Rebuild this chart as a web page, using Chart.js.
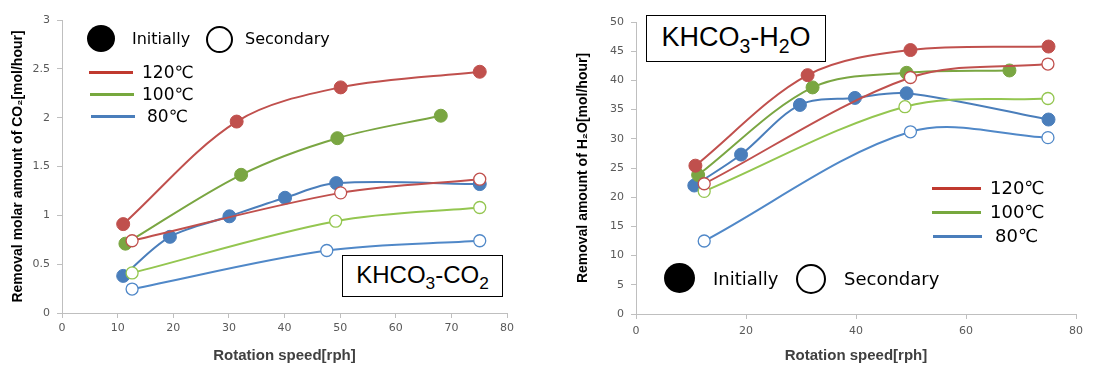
<!DOCTYPE html>
<html>
<head>
<meta charset="utf-8">
<script src="https://cdn.jsdelivr.net/npm/chart.js@4.4.1/dist/chart.umd.min.js"></script>
<style>
  html, body { margin: 0; padding: 0; background: #fff; }
  #wrap { position: relative; width: 1100px; height: 371px; overflow: hidden; }
  .cv { position: absolute; top: 0; height: 371px; }
  .ov { position: absolute; pointer-events: none; white-space: nowrap; color: #000; }
  .txt { font-family: "DejaVu Sans", sans-serif; line-height: 1; }
  .dot { position: absolute; border-radius: 50%; box-sizing: border-box; }
  .ln { position: absolute; height: 3px; }
  .box { position: absolute; border: 1px solid #000; background: #fff; box-sizing: border-box;
         text-align: center; font-family: "Liberation Sans", Arial, sans-serif; white-space: nowrap; }
  .box .sb { font-size: 72%; position: relative; top: 0.34em; }
</style>
</head>
<body>
<div id="wrap">
  <div class="cv" style="left:0;width:560px"><canvas id="co2"></canvas></div>
  <div class="cv" style="left:560px;width:540px"><canvas id="h2o"></canvas></div>

  <!-- left chart legends -->
  <div class="dot" style="left:87px;top:25px;width:28px;height:27px;background:#000"></div>
  <div class="ov txt" style="left:132px;top:31px;font-size:16px">Initially</div>
  <div class="dot" style="left:206px;top:26px;width:27px;height:27px;border:2px solid #000;background:#fff"></div>
  <div class="ov txt" style="left:245px;top:31px;font-size:16px">Secondary</div>
  <div class="ln" style="left:89px;top:71px;width:44px;background:#C0392F"></div>
  <div class="ln" style="left:90px;top:93px;width:44px;background:#77A83E"></div>
  <div class="ln" style="left:91px;top:115px;width:44px;background:#4A7EBB"></div>
  <div class="ov txt" style="left:142px;top:64px;font-size:17px">120℃</div>
  <div class="ov txt" style="left:142px;top:86px;font-size:17px">100℃</div>
  <div class="ov txt" style="left:147px;top:108px;font-size:17px">80℃</div>
  <div class="box" style="left:342px;top:255px;width:161px;height:42px;font-size:24px;line-height:38px">KHCO<span class="sb">3</span>-CO<span class="sb">2</span></div>

  <!-- right chart legends -->
  <div class="box" style="left:646px;top:15px;width:180px;height:47px;font-size:27px;line-height:42px">KHCO<span class="sb">3</span>-H<span class="sb">2</span>O</div>
  <div class="ln" style="left:932px;top:187px;width:49px;background:#C0392F"></div>
  <div class="ln" style="left:932px;top:211px;width:49px;background:#77A83E"></div>
  <div class="ln" style="left:933px;top:235px;width:49px;background:#4A7EBB"></div>
  <div class="ov txt" style="left:990px;top:179px;font-size:18px">120℃</div>
  <div class="ov txt" style="left:990px;top:203px;font-size:18px">100℃</div>
  <div class="ov txt" style="left:995px;top:227px;font-size:18px">80℃</div>
  <div class="dot" style="left:664px;top:263px;width:31px;height:30px;background:#000"></div>
  <div class="ov txt" style="left:713px;top:270px;font-size:18px">Initially</div>
  <div class="dot" style="left:796px;top:264px;width:30px;height:30px;border:2px solid #000;background:#fff"></div>
  <div class="ov txt" style="left:844px;top:270px;font-size:18px">Secondary</div>
</div>

<script>
// CO2 removal (left chart), x = rotation speed [rph], y = mol/hour
const co2Init120X = [11.0, 31.4, 50.1, 75.1];
const co2Init120Y = [0.91, 1.96, 2.31, 2.47];
const co2Init100X = [11.4, 32.2, 49.5, 68.1];
const co2Init100Y = [0.71, 1.415, 1.79, 2.02];
const co2Init80X = [11.0, 19.4, 30.1, 40.1, 49.3, 75.1];
const co2Init80Y = [0.38, 0.78, 0.99, 1.18, 1.33, 1.32];
const co2Sec120X = [12.6, 50.1, 75.1];
const co2Sec120Y = [0.74, 1.23, 1.37];
const co2Sec100X = [12.6, 49.2, 75.1];
const co2Sec100Y = [0.41, 0.94, 1.08];
const co2Sec80X = [12.6, 47.6, 75.1];
const co2Sec80Y = [0.245, 0.64, 0.74];

// H2O removal (right chart)
const h2oInit120X = [10.8, 31.2, 49.9, 75.0];
const h2oInit120Y = [25.4, 40.9, 45.2, 45.8];
const h2oInit100X = [11.3, 32.1, 49.2, 67.9];
const h2oInit100Y = [23.8, 38.8, 41.3, 41.7];
const h2oInit80X = [10.6, 19.1, 29.8, 39.8, 49.2, 75.0];
const h2oInit80Y = [22.0, 27.3, 35.8, 37.0, 37.8, 33.3];
const h2oSec120X = [12.4, 49.9, 74.9];
const h2oSec120Y = [22.3, 40.5, 42.8];
const h2oSec100X = [12.4, 48.9, 74.9];
const h2oSec100Y = [21.0, 35.5, 36.9];
const h2oSec80X = [12.4, 49.9, 74.9];
const h2oSec80Y = [12.5, 31.2, 30.2];

const co2YTicks = [0, 0.5, 1, 1.5, 2, 2.5, 3];
const h2oYTicks = [0, 5, 10, 15, 20, 25, 30, 35, 40, 45, 50];

const RED = '#C0504D', GREEN = '#7AA642', BLUE = '#4A7EBB';
const GREEN_LIGHT = '#94C650', BLUE_LIGHT = '#5088C8';
const TENSION = 0.33;

function pts(xs, ys) {
  return xs.map((x, i) => ({ x: x, y: ys[i] }));
}

function filled(xs, ys, color) {
  return {
    data: pts(xs, ys), borderColor: color, backgroundColor: color,
    pointBackgroundColor: color, pointBorderColor: color,
    pointRadius: 6.5, pointBorderWidth: 1, borderWidth: 2, tension: TENSION
  };
}

function hollow(xs, ys, color) {
  return {
    data: pts(xs, ys), borderColor: color, backgroundColor: '#fff',
    pointBackgroundColor: '#fff', pointBorderColor: color,
    pointRadius: 6, pointBorderWidth: 1.3, borderWidth: 2, tension: TENSION
  };
}

const tickFont = { family: 'DejaVu Sans', size: 11 };
const titleFont = { family: 'Liberation Sans', size: 14, weight: 'bold' };

function makeChart(id, datasets, opts) {
  return new Chart(document.getElementById(id), {
    type: 'line',
    data: { datasets: datasets },
    options: {
      responsive: true,
      maintainAspectRatio: false,
      animation: false,
      layout: { padding: { top: opts.padTop, right: opts.padRight, left: 0, bottom: 0 } },
      plugins: { legend: { display: false }, tooltip: { enabled: false } },
      scales: {
        x: {
          type: 'linear', min: 0, max: 80,
          ticks: { stepSize: opts.xStep, font: tickFont, color: '#595959', padding: opts.xTickPad, maxRotation: 0 },
          grid: { drawOnChartArea: false, color: '#BFBFBF', tickLength: 5 },
          border: { color: '#BFBFBF' },
          title: { display: true, text: 'Rotation speed[rph]', color: '#404040',
                   font: { family: 'Liberation Sans', size: 15, weight: 'bold' }, padding: { top: 0, bottom: 6 } },
          afterFit: s => { s.height = opts.xHeight; }
        },
        y: {
          type: 'linear', min: 0, max: opts.yMax,
          afterBuildTicks: s => { s.ticks = opts.yTicks.map(v => ({ value: v })); },
          ticks: { font: tickFont, color: '#595959', padding: 7, callback: v => String(v) },
          grid: { drawOnChartArea: false, color: '#BFBFBF', tickLength: 5 },
          border: { color: '#BFBFBF' },
          title: { display: true, text: opts.yTitle, color: '#000', font: titleFont,
                   padding: { top: opts.yTitlePad, bottom: 0 } },
          afterFit: s => { s.width = opts.yWidth; }
        }
      }
    }
  });
}

makeChart('co2', [
  hollow(co2Sec120X, co2Sec120Y, RED),
  hollow(co2Sec100X, co2Sec100Y, GREEN_LIGHT),
  hollow(co2Sec80X, co2Sec80Y, BLUE_LIGHT),
  filled(co2Init120X, co2Init120Y, RED),
  filled(co2Init100X, co2Init100Y, GREEN),
  filled(co2Init80X, co2Init80Y, BLUE)
], {
  padTop: 20, padRight: 53, xStep: 10, xTickPad: 4, xHeight: 58,
  yMax: 3, yTicks: co2YTicks, yWidth: 62, yTitlePad: 10,
  yTitle: 'Removal molar amount of CO₂[mol/hour]'
});

makeChart('h2o', [
  hollow(h2oSec120X, h2oSec120Y, RED),
  hollow(h2oSec100X, h2oSec100Y, GREEN_LIGHT),
  hollow(h2oSec80X, h2oSec80Y, BLUE_LIGHT),
  filled(h2oInit120X, h2oInit120Y, RED),
  filled(h2oInit100X, h2oInit100Y, GREEN),
  filled(h2oInit80X, h2oInit80Y, BLUE)
], {
  padTop: 22, padRight: 24, xStep: 20, xTickPad: 6, xHeight: 57,
  yMax: 50, yTicks: h2oYTicks, yWidth: 76, yTitlePad: 15,
  yTitle: 'Removal amount of H₂O[mol/hour]'
});
</script>
</body>
</html>
